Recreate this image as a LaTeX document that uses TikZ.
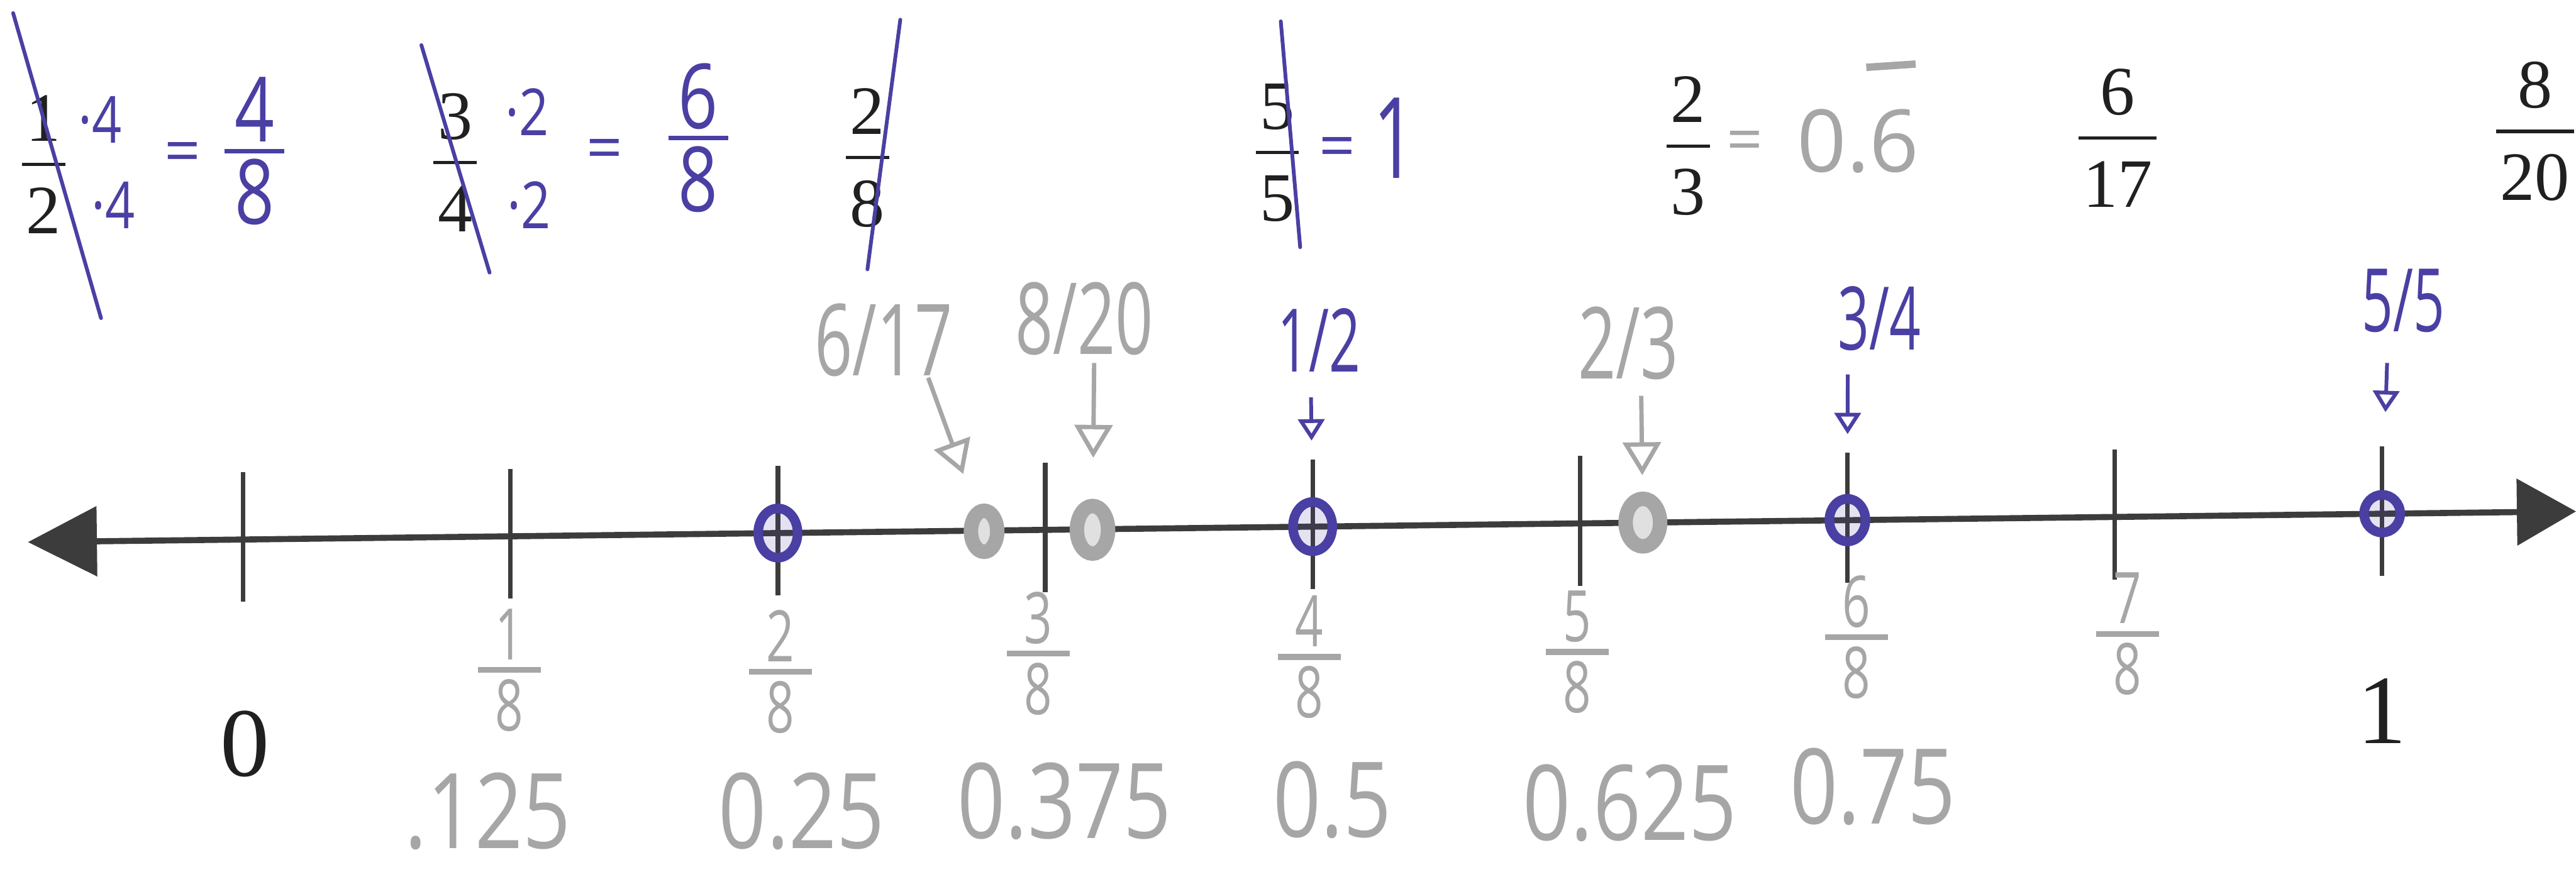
\documentclass[tikz,border=0pt]{standalone}
\usepackage{fontspec}
\setmainfont{Liberation Serif}
\newfontfamily\handfont{Open Sans}
\usepackage{xcolor}
\usepackage{tikz}
\usetikzlibrary{arrows.meta, shapes.geometric}
\definecolor{inkblue}{HTML}{4A3FA3}
\definecolor{pencilgray}{HTML}{A6A6A6}
\definecolor{printblack}{HTML}{202020}
\definecolor{linegray}{HTML}{3C3C3C}

\begin{document}
\begin{tikzpicture}[x=0.02cm, y=-0.02cm,
    hand/.style 2 args={font=\handfont\fontsize{#1}{#2}\selectfont},
    frac/.style 2 args={align=center, inner ysep=0pt, outer sep=0pt,
      append after command={(\tikzlastnode.west) edge[draw=#2, line width=#1] (\tikzlastnode.east)}},
    ink/.style={color=inkblue},
    pencil/.style={color=pencilgray},
    printfrac/.style={color=printblack, font=\fontsize{24}{32}\selectfont,
      frac={1.1pt}{printblack}, inner xsep=1.5pt},
    bignum/.style={color=printblack, font=\fontsize{34}{34}\selectfont},
    topnote/.style={hand={18}{18}, yscale=1.25, inner sep=0pt},
    eqsign/.style={hand={22}{22}, inner sep=0pt},
    inkfrac/.style={ink, hand={24}{22}, yscale=1.3, frac={1.4pt}{inkblue}, inner xsep=3.5pt},
    marklabel/.style={hand={23}{23}, yscale=1.5},
    smallmark/.style={hand={19}{19}, yscale=1.6},
    eighth/.style={pencil, hand={17}{17}, yscale=1.45, frac={2pt}{pencilgray}, inner xsep=6pt},
    decimal/.style={pencil, hand={29}{29}, yscale=1.25},
    strike/.style={inkblue, line width=1.3pt, line cap=round},
    tick/.style={linegray, line width=1.6pt},
    numline/.style={linegray, line width=2.1pt,
      {Triangle[length=0.84cm,width=0.84cm]}-{Triangle[length=0.72cm,width=0.8cm]}},
    bluedot/.style={ellipse, draw=inkblue, fill=inkblue, fill opacity=0.15, line width=3.3pt,
      minimum width=0.48cm, minimum height=0.6cm, inner sep=0pt},
    graydot/.style={ellipse, draw=pencilgray, fill=pencilgray!35, line width=5pt,
      minimum width=0.32cm, minimum height=0.5cm, inner sep=0pt},
    pencilarrow/.style={pencilgray, line width=1.5pt, -{Triangle[open, length=0.4cm, width=0.46cm]}},
    inkarrow/.style={inkblue, line width=1.3pt, -{Triangle[open, length=0.26cm, width=0.32cm]}}]

  \path[use as bounding box, fill=white] (0,0) rectangle (1568,534);

  % printed fractions along the top
  \node[printfrac] (p12) at (26.5,100) {1\\2};
  \node[printfrac] (p34) at (277,99) {3\\4};
  \node[printfrac] (p28) at (528,96) {2\\8};
  \node[printfrac] (p55) at (777.5,93) {5\\5};
  \node[printfrac] (p23) at (1027.5,89) {2\\3};
  \node[printfrac] (p617) at (1289,84) {6\\17};
  \node[printfrac] (p820) at (1543,80) {8\\20};

  % working in ink and pencil
  \node[ink, topnote] (m12a) at (61,73) {·4};
  \node[ink, topnote] (m12b) at (69,125) {·4};
  \node[ink, eqsign] (e12) at (111,96) {=};
  \node[inkfrac] (q48) at (155,92) {4\\8};
  \node[ink, topnote] (m34a) at (321,68) {·2};
  \node[ink, topnote] (m34b) at (322,125) {·2};
  \node[ink, eqsign] (e34) at (368,94) {=};
  \node[inkfrac] (q68) at (425,84) {6\\8};
  \node[ink, eqsign] (e55) at (814,93) {=};
  \node[ink, hand={26}{26}, yscale=1.5] (w55) at (849,84) {1};
  \node[pencil, eqsign] (e23) at (1062,89) {=};
  \node[pencil, hand={30}{30}] (w23) at (1131,86) {0.6};
  \draw[pencilgray, line width=0.09cm] (1136,41) -- (1166,39);

  % crossed out
  \draw[strike] (8,8) -- (61.5,193.7);
  \draw[strike] (256.5,27.5) -- (298,166);
  \draw[strike] (548,12) -- (528,164);
  \draw[strike] (779.6,13) -- (791.4,150.5);

  % number line
  \coordinate (lend) at (17,330.1);
  \coordinate (rend) at (1568,311.4);
  \foreach \i in {0,...,8}
    \coordinate (t\i) at ({148+162.75*\i},{328.5-1.963*\i});
  \foreach \i in {0,...,8}
    \draw[tick] (t\i) ++(0,-41) -- ++(0,79);
  \draw[numline] (lend) -- (rend);

  % plotted points
  \node[bluedot] (b28) at (t2) {};
  \node[bluedot] (b48) at (t4) {};
  \node[bluedot, minimum width=0.44cm, minimum height=0.52cm] (b68) at (t6) {};
  \node[bluedot, minimum width=0.44cm, minimum height=0.46cm] (b88) at (t8) {};
  \node[graydot] (g617) at (599,323.5) {};
  \node[graydot, minimum width=0.38cm, minimum height=0.58cm] (g820) at (665,322.6) {};
  \node[graydot, minimum width=0.42cm, minimum height=0.58cm] (g23) at (1000,318.2) {};

  % labels above the line
  \node[pencil, marklabel] (l617) at (538,207) {6/17};
  \node[pencil, marklabel] (l820) at (660,194) {8/20};
  \node[pencil, marklabel] (l23) at (991,209) {2/3};
  \node[ink, smallmark] (l12) at (803,207) {1/2};
  \node[ink, smallmark] (l34) at (1144,194) {3/4};
  \node[ink, smallmark] (l55) at (1463,183) {5/5};

  \coordinate (a617) at (565,230);
  \coordinate (a820) at (666,221);
  \coordinate (a23) at (999,241);
  \coordinate (a12) at (798,242);
  \coordinate (a34) at (1124.7,228);
  \coordinate (a55) at (1453,221);
  \draw[pencilarrow, shorten >=0.42cm] (a617) -- (g617);
  \draw[pencilarrow, shorten >=0.5cm] (a820) -- (g820);
  \draw[pencilarrow, shorten >=0.2cm] (a23) -- (g23);
  \draw[inkarrow, shorten >=0.69cm] (a12) -- (b48);
  \draw[inkarrow, shorten >=0.73cm] (a34) -- (b68);
  \draw[inkarrow, shorten >=0.95cm] (a55) -- (b88);

  % labels below the line
  \node[bignum] (n0) at (149,453) {0};
  \node[bignum] (n1) at (1450,433) {1};
  \node[eighth] (f1) at (310,408) {1\\8};
  \node[eighth] (f2) at (475,409) {2\\8};
  \node[eighth] (f3) at (632,398) {3\\8};
  \node[eighth] (f4) at (797,400) {4\\8};
  \node[eighth] (f5) at (960,397) {5\\8};
  \node[eighth] (f6) at (1130,388) {6\\8};
  \node[eighth] (f7) at (1295,386) {7\\8};

  \node[decimal] (c1) at (297,494) {.125};
  \node[decimal] (c2) at (488,494) {0.25};
  \node[decimal] (c3) at (648,488) {0.375};
  \node[decimal] (c4) at (811,487) {0.5};
  \node[decimal] (c5) at (992,489) {0.625};
  \node[decimal] (c6) at (1140,479) {0.75};
\end{tikzpicture}
\end{document}
